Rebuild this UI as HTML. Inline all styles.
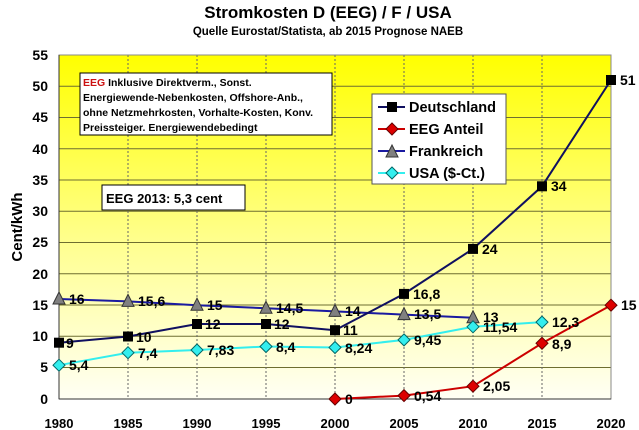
<!DOCTYPE html>
<html><head><meta charset="utf-8"><style>
html,body{margin:0;padding:0;background:#fff;}
svg{display:block;font-family:"Liberation Sans",Arial,sans-serif;font-weight:bold;}
</style></head><body>
<svg width="639" height="430" viewBox="0 0 639 430" xmlns="http://www.w3.org/2000/svg">
<defs>
<linearGradient id="g" x1="0" y1="0" x2="0" y2="1">
<stop offset="0" stop-color="#ffff00"/>
<stop offset="0.55" stop-color="#ffff90"/>
<stop offset="1" stop-color="#fffff4"/>
</linearGradient>
<g id="sq"><rect x="-5" y="-5" width="10" height="10" fill="#000"/></g>
<g id="di"><polygon points="0,-6 6,0 0,6 -6,0" fill="#dd0000" stroke="#600" stroke-width="1"/></g>
<g id="tr"><polygon points="0,-7 6,5 -6,5" fill="#808080" stroke="#333" stroke-width="1"/></g>
<g id="cy"><polygon points="0,-6 6,0 0,6 -6,0" fill="#33eeee" stroke="#066" stroke-width="1"/></g>
</defs>
<text x="328" y="18" font-size="17" text-anchor="middle">Stromkosten D (EEG) / F / USA</text>
<text x="328" y="35" font-size="11.5" text-anchor="middle">Quelle Eurostat/Statista, ab 2015 Prognose NAEB</text>
<rect x="59" y="55" width="552" height="344" fill="url(#g)"/>
<g stroke="#6e6e30" stroke-width="1">
<line x1="59" y1="86.3" x2="611" y2="86.3"/><line x1="59" y1="117.5" x2="611" y2="117.5"/>
<line x1="59" y1="148.8" x2="611" y2="148.8"/><line x1="59" y1="180" x2="611" y2="180"/>
<line x1="59" y1="211.3" x2="611" y2="211.3"/><line x1="59" y1="242.5" x2="611" y2="242.5"/>
<line x1="59" y1="273.8" x2="611" y2="273.8"/><line x1="59" y1="305" x2="611" y2="305"/>
<line x1="59" y1="336.3" x2="611" y2="336.3"/><line x1="59" y1="367.5" x2="611" y2="367.5"/>
</g>
<g stroke="#666" stroke-width="1" stroke-dasharray="2,2">
<line x1="128" y1="55" x2="128" y2="399"/><line x1="197" y1="55" x2="197" y2="399"/>
<line x1="266" y1="55" x2="266" y2="399"/><line x1="335" y1="55" x2="335" y2="399"/>
<line x1="404" y1="55" x2="404" y2="399"/><line x1="473" y1="55" x2="473" y2="399"/>
<line x1="542" y1="55" x2="542" y2="399"/>
</g>
<rect x="59" y="55" width="552" height="344" fill="none" stroke="#888" stroke-width="1"/>
<line x1="59" y1="55" x2="59" y2="399" stroke="#333"/>
<line x1="59" y1="399" x2="611" y2="399" stroke="#333"/>
<g font-size="14" text-anchor="end">
<text x="48" y="60">55</text><text x="48" y="91">50</text><text x="48" y="122">45</text>
<text x="48" y="154">40</text><text x="48" y="185">35</text><text x="48" y="216">30</text>
<text x="48" y="247">25</text><text x="48" y="279">20</text><text x="48" y="310">15</text>
<text x="48" y="341">10</text><text x="48" y="372">5</text><text x="48" y="404">0</text>
</g>
<g font-size="13" text-anchor="middle">
<text x="59" y="428">1980</text><text x="128" y="428">1985</text><text x="197" y="428">1990</text>
<text x="266" y="428">1995</text><text x="335" y="428">2000</text><text x="404" y="428">2005</text>
<text x="473" y="428">2010</text><text x="542" y="428">2015</text><text x="611" y="428">2020</text>
</g>
<text transform="translate(22,227) rotate(-90)" font-size="15" text-anchor="middle">Cent/kWh</text>
<polyline points="59,299 128,301.4 197,305.2 266,308.3 335,311.4 404,314.6 473,317.7" fill="none" stroke="#1a1aa0" stroke-width="2"/>
<polyline points="59,342.7 128,336.5 197,324 266,324 335,330.2 404,293.9 473,248.9 542,186.3 611,80" fill="none" stroke="#101060" stroke-width="2"/>
<polyline points="59,365.2 128,352.7 197,350 266,346.5 335,347.5 404,339.9 473,326.8 542,322.1" fill="none" stroke="#33eeee" stroke-width="2"/>
<polyline points="335,399 404,395.6 473,386.2 542,343.3 611,305.2" fill="none" stroke="#cc0000" stroke-width="2"/>
<g>
<use href="#tr" x="59" y="299"/><use href="#tr" x="128" y="301.4"/><use href="#tr" x="197" y="305.2"/>
<use href="#tr" x="266" y="308.3"/><use href="#tr" x="335" y="311.4"/><use href="#tr" x="404" y="314.6"/><use href="#tr" x="473" y="317.7"/>
<use href="#sq" x="59" y="342.7"/><use href="#sq" x="128" y="336.5"/><use href="#sq" x="197" y="324"/>
<use href="#sq" x="266" y="324"/><use href="#sq" x="335" y="330.2"/><use href="#sq" x="404" y="293.9"/>
<use href="#sq" x="473" y="248.9"/><use href="#sq" x="542" y="186.3"/><use href="#sq" x="611" y="80"/>
<use href="#cy" x="59" y="365.2"/><use href="#cy" x="128" y="352.7"/><use href="#cy" x="197" y="350"/>
<use href="#cy" x="266" y="346.5"/><use href="#cy" x="335" y="347.5"/><use href="#cy" x="404" y="339.9"/>
<use href="#cy" x="473" y="326.8"/><use href="#cy" x="542" y="322.1"/>
<use href="#di" x="335" y="399"/><use href="#di" x="404" y="395.6"/><use href="#di" x="473" y="386.2"/>
<use href="#di" x="542" y="343.3"/><use href="#di" x="611" y="305.2"/>
</g>
<g font-size="14">
<text x="69" y="304">16</text><text x="138" y="306">15,6</text><text x="207" y="310">15</text>
<text x="276" y="313">14,5</text><text x="345" y="316">14</text><text x="414" y="319">13,5</text><text x="483" y="322">13</text>
<text x="66" y="348">9</text><text x="136" y="342">10</text><text x="205" y="329">12</text>
<text x="274" y="329">12</text><text x="343" y="335">11</text><text x="413" y="299">16,8</text>
<text x="482" y="254">24</text><text x="551" y="191">34</text><text x="620" y="85">51</text>
<text x="69" y="370">5,4</text><text x="138" y="358">7,4</text><text x="207" y="355">7,83</text>
<text x="276" y="352">8,4</text><text x="345" y="353">8,24</text><text x="414" y="345">9,45</text>
<text x="483" y="332">11,54</text><text x="552" y="327">12,3</text>
<text x="345" y="404">0</text><text x="414" y="401">0,54</text><text x="483" y="391">2,05</text>
<text x="552" y="349">8,9</text><text x="621" y="310">15</text>
</g>
<rect x="80" y="73" width="252" height="62" fill="#fff" stroke="#000" stroke-width="1"/>
<g font-size="10.5">
<text x="83" y="86"><tspan fill="#cc1111">EEG</tspan> Inklusive Direktverm., Sonst.</text>
<text x="83" y="101">Energiewende-Nebenkosten, Offshore-Anb.,</text>
<text x="83" y="116">ohne Netzmehrkosten, Vorhalte-Kosten, Konv.</text>
<text x="83" y="131">Preissteiger. Energiewendebedingt</text>
</g>
<rect x="102" y="185" width="143" height="25" fill="#fff" stroke="#000" stroke-width="1"/>
<text x="106" y="203" font-size="13">EEG 2013: 5,3 cent</text>
<rect x="372" y="94" width="134" height="90" fill="#fff" stroke="#555" stroke-width="1"/>
<g>
<line x1="378" y1="107" x2="405" y2="107" stroke="#101060" stroke-width="2"/><use href="#sq" x="392" y="107"/>
<line x1="378" y1="129" x2="405" y2="129" stroke="#cc0000" stroke-width="2"/><use href="#di" x="392" y="129"/>
<line x1="378" y1="151" x2="405" y2="151" stroke="#1a1aa0" stroke-width="2"/><use href="#tr" x="392" y="152"/>
<line x1="378" y1="173" x2="405" y2="173" stroke="#33eeee" stroke-width="2"/><use href="#cy" x="392" y="173"/>
</g>
<g font-size="14.5">
<text x="409" y="112">Deutschland</text><text x="409" y="134">EEG Anteil</text>
<text x="409" y="156">Frankreich</text><text x="409" y="178">USA ($-Ct.)</text>
</g>
</svg>
</body></html>
